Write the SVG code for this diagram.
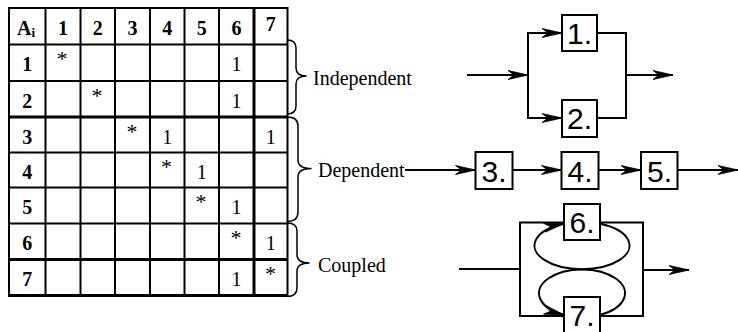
<svg xmlns="http://www.w3.org/2000/svg" width="738" height="332" viewBox="0 0 738 332">
<defs>
<style>
.g{stroke:#000;stroke-width:2;fill:none}
.gt{stroke:#000;stroke-width:3;fill:none}
.th{font-family:"Liberation Serif","Times New Roman",serif;font-size:20px;font-weight:bold;text-anchor:middle;fill:#000}
.td{font-family:"Liberation Serif","Times New Roman",serif;font-size:20px;text-anchor:middle;fill:#000}
.ts{font-family:"Liberation Serif","Times New Roman",serif;font-size:22px;text-anchor:middle;fill:#000}
.lbl{font-family:"Liberation Serif","Times New Roman",serif;font-size:20px;fill:#000}
.brace{stroke:#000;stroke-width:1.5;fill:none}
.box{stroke:#000;stroke-width:2;fill:#fff}
.bt{font-family:"Liberation Sans",Arial,sans-serif;font-size:30px;text-anchor:middle;fill:#000}
.ln{stroke:#000;stroke-width:2;fill:none}
.arr{stroke:#000;stroke-width:2;fill:none;marker-end:url(#ah)}
</style>
<marker id="ah" markerUnits="userSpaceOnUse" markerWidth="24" markerHeight="14" viewBox="-22 -7 24 14" refX="0" refY="0" orient="auto">
<path d="M0,0 L-20,-4.5 L-14,0 L-20,4.5 Z" fill="#000" stroke="#000" stroke-width="0.8" stroke-linejoin="miter"/>
</marker>
</defs>

<g id="matrix">
<rect x="9" y="8" width="278.5" height="287.5" class="g"/>
<g class="g">
<line x1="9" y1="44.5" x2="287.5" y2="44.5"/>
<line x1="9" y1="81" x2="287.5" y2="81"/>
<line x1="9" y1="152.5" x2="287.5" y2="152.5"/>
<line x1="9" y1="187.5" x2="287.5" y2="187.5"/>
<line x1="9" y1="223.5" x2="287.5" y2="223.5"/>
<line x1="45.5" y1="8" x2="45.5" y2="295.5"/>
<line x1="80.5" y1="8" x2="80.5" y2="295.5"/>
<line x1="115" y1="8" x2="115" y2="295.5"/>
<line x1="150" y1="8" x2="150" y2="295.5"/>
<line x1="184.5" y1="8" x2="184.5" y2="295.5"/>
<line x1="219" y1="8" x2="219" y2="295.5"/>
</g>
<g class="gt">
<line x1="9" y1="117" x2="287.5" y2="117"/>
<line x1="9" y1="259.5" x2="287.5" y2="259.5"/>
<line x1="8" y1="295.5" x2="288" y2="295.5"/>
<line x1="254" y1="8" x2="254" y2="295.5"/>
</g>
<text x="26" y="34.5" class="th">A<tspan font-size="13" dy="2">i</tspan></text>
<text x="63" y="34.5" class="th">1</text>
<text x="97.75" y="34.5" class="th">2</text>
<text x="132.5" y="34.5" class="th">3</text>
<text x="167.25" y="34.5" class="th">4</text>
<text x="201.75" y="34.5" class="th">5</text>
<text x="236.5" y="34.5" class="th">6</text>
<text x="270.75" y="31" class="th">7</text>
<text x="27.25" y="71" class="th">1</text>
<text x="27.25" y="107.5" class="th">2</text>
<text x="27.25" y="143.5" class="th">3</text>
<text x="27.25" y="179" class="th">4</text>
<text x="27.25" y="214" class="th">5</text>
<text x="27.25" y="250" class="th">6</text>
<text x="27.25" y="286" class="th">7</text>
<text x="62" y="66" class="ts">*</text>
<text x="236.5" y="71" class="td">1</text>
<text x="97" y="102.5" class="ts">*</text>
<text x="236.5" y="107.5" class="td">1</text>
<text x="132" y="138.5" class="ts">*</text>
<text x="167.25" y="143.5" class="td">1</text>
<text x="270.75" y="143.5" class="td">1</text>
<text x="166.5" y="174" class="ts">*</text>
<text x="201.75" y="179" class="td">1</text>
<text x="201" y="209" class="ts">*</text>
<text x="236.5" y="214" class="td">1</text>
<text x="236" y="245" class="ts">*</text>
<text x="270.75" y="250" class="td">1</text>
<text x="236.5" y="286" class="td">1</text>
<text x="270.5" y="281" class="ts">*</text>
</g>

<g id="brace-independent">
<path class="brace" d="M287,40 Q296,40 296,48 L296,68 Q296,76 306.5,76 Q296,76 296,84 L296,106 Q296,114 287,114"/>
<text x="313" y="85" class="lbl">Independent</text>
</g>
<g id="brace-dependent">
<path class="brace" d="M287,117 Q298,117 298,126 L298,160 Q298,168.5 311.5,168.5 Q298,168.5 298,177 L298,212 Q298,221.5 287,221.5"/>
<text x="318" y="177" class="lbl">Dependent</text>
</g>
<g id="brace-coupled">
<path class="brace" d="M287,223 Q297,223 297,231 L297,255 Q297,263 309.5,263 Q297,263 297,271 L297,288 Q297,296.5 287,296.5"/>
<text x="318" y="272" class="lbl">Coupled</text>
</g>

<g id="connectors">
<line x1="467" y1="75" x2="528" y2="75" class="arr"/>
<polyline points="562,33 528,33 528,118 562,118" class="ln"/>
<line x1="528" y1="33" x2="562" y2="33" class="arr"/>
<line x1="528" y1="118" x2="562" y2="118" class="arr"/>
<polyline points="597,33 626,33 626,118 597,118" class="ln"/>
<line x1="626" y1="75" x2="673" y2="75" class="arr"/>
<line x1="405" y1="170" x2="475.5" y2="170" class="arr"/>
<line x1="512.5" y1="170" x2="561.5" y2="170" class="arr"/>
<line x1="598.5" y1="170" x2="641" y2="170" class="arr"/>
<line x1="677.5" y1="170" x2="738" y2="170" class="arr"/>
<line x1="459" y1="269" x2="520" y2="269" class="ln"/>
<polyline points="564,222.5 520,222.5 520,316 564,316" class="ln"/>
<polyline points="600,222.5 643,222.5 643,316 600,316" class="ln"/>
<line x1="643" y1="270" x2="689" y2="270" class="arr"/>
<path d="M600,223.7 A47.5,23.6 0 1 1 564,223.7" class="arr"/>
<path d="M600,314.8 A43,23.8 0 1 0 564,314.8" class="arr"/>
</g>

<g id="node1"><rect x="562" y="15" width="35" height="36" class="box"/><text x="579.5" y="43.5" class="bt">1.</text></g>
<g id="node2"><rect x="562" y="100" width="35" height="37" class="box"/><text x="579.5" y="129" class="bt">2.</text></g>
<g id="node3"><rect x="475.5" y="152" width="37" height="37" class="box"/><text x="494" y="181.5" class="bt">3.</text></g>
<g id="node4"><rect x="561.5" y="152" width="37" height="37" class="box"/><text x="580" y="181.5" class="bt">4.</text></g>
<g id="node5"><rect x="641" y="152" width="36.5" height="37" class="box"/><text x="659.5" y="181.5" class="bt">5.</text></g>
<g id="node6"><rect x="564" y="204" width="36" height="36" class="box"/><text x="582" y="233" class="bt">6.</text></g>
<g id="node7"><rect x="564" y="297" width="36" height="37" class="box"/><text x="582" y="326" class="bt">7.</text></g>
</svg>
